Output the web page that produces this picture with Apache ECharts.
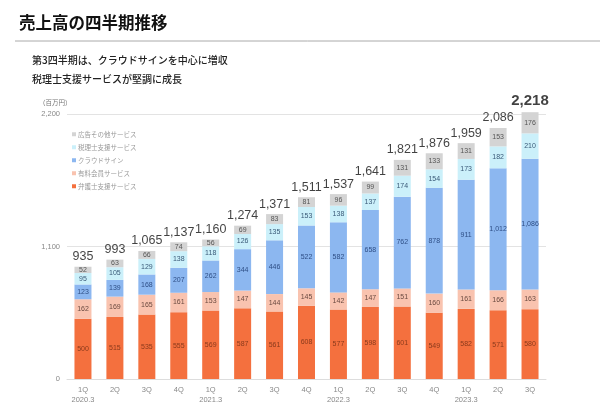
<!DOCTYPE html>
<html>
<head>
<meta charset="utf-8">
<script src="https://cdn.jsdelivr.net/npm/echarts@6/dist/echarts.min.js"></script>
<style>
html, body { margin: 0; padding: 0; background: #fff; }
#main { width: 600px; height: 406px; }
</style>
</head>
<body>
<div id="main"></div>
<script>
// quarters and fiscal year under each 1Q
const quarters = ['1Q', '2Q', '3Q', '4Q', '1Q', '2Q', '3Q', '4Q', '1Q', '2Q', '3Q', '4Q', '1Q', '2Q', '3Q'];
const years = ['2020.3', '', '', '', '2021.3', '', '', '', '2022.3', '', '', '', '2023.3', '', ''];

// 百万円
const lawyer = [500, 515, 535, 555, 569, 587, 561, 608, 577, 598, 601, 549, 582, 571, 580];
const member = [162, 169, 165, 161, 153, 147, 144, 145, 142, 147, 151, 160, 161, 166, 163];
const cloudSign = [123, 139, 168, 207, 262, 344, 446, 522, 582, 658, 762, 878, 911, 1012, 1086];
const taxAcc = [95, 105, 129, 138, 118, 126, 135, 153, 138, 137, 174, 154, 173, 182, 210];
const adOther = [52, 63, 66, 74, 56, 69, 83, 81, 96, 99, 131, 133, 131, 153, 176];
const totals = [935, 993, 1065, 1137, 1160, 1274, 1371, 1511, 1537, 1641, 1821, 1876, 1959, 2086, 2218];

const yTicks = [0, 1100, 2200];

const FONT = '"Liberation Sans", "Noto Sans CJK JP", sans-serif';
const JP = '"Noto Sans CJK JP", sans-serif';

let chart = echarts.init(document.getElementById('main'));

function fmt(v) {
	return v.toLocaleString('en-US');
}

function seg(name, data, color, txt) {
	return {
		name: name,
		type: 'bar',
		stack: 'total',
		barWidth: 17,
		clip: false,
		data: data,
		itemStyle: { color: color },
		label: {
			show: true,
			position: 'inside',
			fontSize: 7,
			color: txt,
			fontFamily: FONT,
			formatter: function(p) { return fmt(p.value); }
		}
	};
}

let option = {
	animation: false,
	textStyle: { fontFamily: FONT },
	title: {
		text: '売上高の四半期推移',
		left: 14,
		top: 9,
		textStyle: { fontSize: 16.5, fontWeight: 'bold', color: '#111', fontFamily: JP }
	},
	graphic: [
		{
			type: 'line',
			shape: { x1: 15, y1: 41, x2: 600, y2: 41 },
			style: { stroke: '#aaa', lineWidth: 1 }
		},
		{
			type: 'text', left: 32, top: 55,
			style: { text: '第3四半期は、クラウドサインを中心に増収', fill: '#222', font: '500 10px "Noto Sans CJK JP"' }
		},
		{
			type: 'text', left: 32, top: 74,
			style: { text: '税理士支援サービスが堅調に成長', fill: '#222', font: '500 10px "Noto Sans CJK JP"' }
		},
		{
			type: 'text', left: 39, top: 99,
			style: { text: '（百万円）', fill: '#777', font: '6.5px "Noto Sans CJK JP"' }
		}
	],
	legend: {
		orient: 'vertical',
		left: 67,
		top: 126,
		itemWidth: 4,
		itemHeight: 4,
		itemGap: 6.5,
		icon: 'rect',
		textStyle: { fontSize: 6.5, color: '#999', fontFamily: JP, padding: [0, 0, 0, -3] },
		data: ['広告その他サービス', '税理士支援サービス', 'クラウドサイン', '有料会員サービス', '弁護士支援サービス']
	},
	grid: { left: 67, right: 54, top: 114, bottom: 27 },
	xAxis: {
		type: 'category',
		data: quarters.map(function(q, i) { return years[i] ? q + '\n' + years[i] : q; }),
		axisTick: { show: false },
		axisLine: { lineStyle: { color: '#ddd' } },
		axisLabel: { fontSize: 7.5, color: '#888', lineHeight: 10, margin: 6 }
	},
	yAxis: {
		type: 'value',
		min: yTicks[0],
		max: yTicks[2],
		interval: yTicks[1],
		axisLabel: { fontSize: 7.5, color: '#888', margin: 7, formatter: fmt },
		splitLine: { lineStyle: { color: '#e3e3e3' } }
	},
	series: [
		seg('弁護士支援サービス', lawyer, '#F4703E', '#8a3a1c'),
		seg('有料会員サービス', member, '#F9C3AF', '#6a4a40'),
		seg('クラウドサイン', cloudSign, '#8CB7F0', '#2f4f86'),
		seg('税理士支援サービス', taxAcc, '#CBF0FA', '#3a5a78'),
		seg('広告その他サービス', adOther, '#D4D4D4', '#555'),
		{
			name: 'total',
			type: 'scatter',
			symbolSize: 1,
			clip: false,
			itemStyle: { color: 'rgba(0,0,0,0)' },
			silent: true,
			data: totals.map(function(v, i) {
				let item = { value: v };
				if (i === totals.length - 1) {
					item.label = { fontSize: 15, fontWeight: 'bold' };
				}
				return item;
			}),
			label: {
				show: true,
				position: 'top',
				distance: 3,
				fontSize: 12.5,
				color: '#111',
				fontFamily: FONT,
				formatter: function(p) { return fmt(p.value); }
			}
		}
	]
};

chart.setOption(option);
</script>
</body>
</html>
